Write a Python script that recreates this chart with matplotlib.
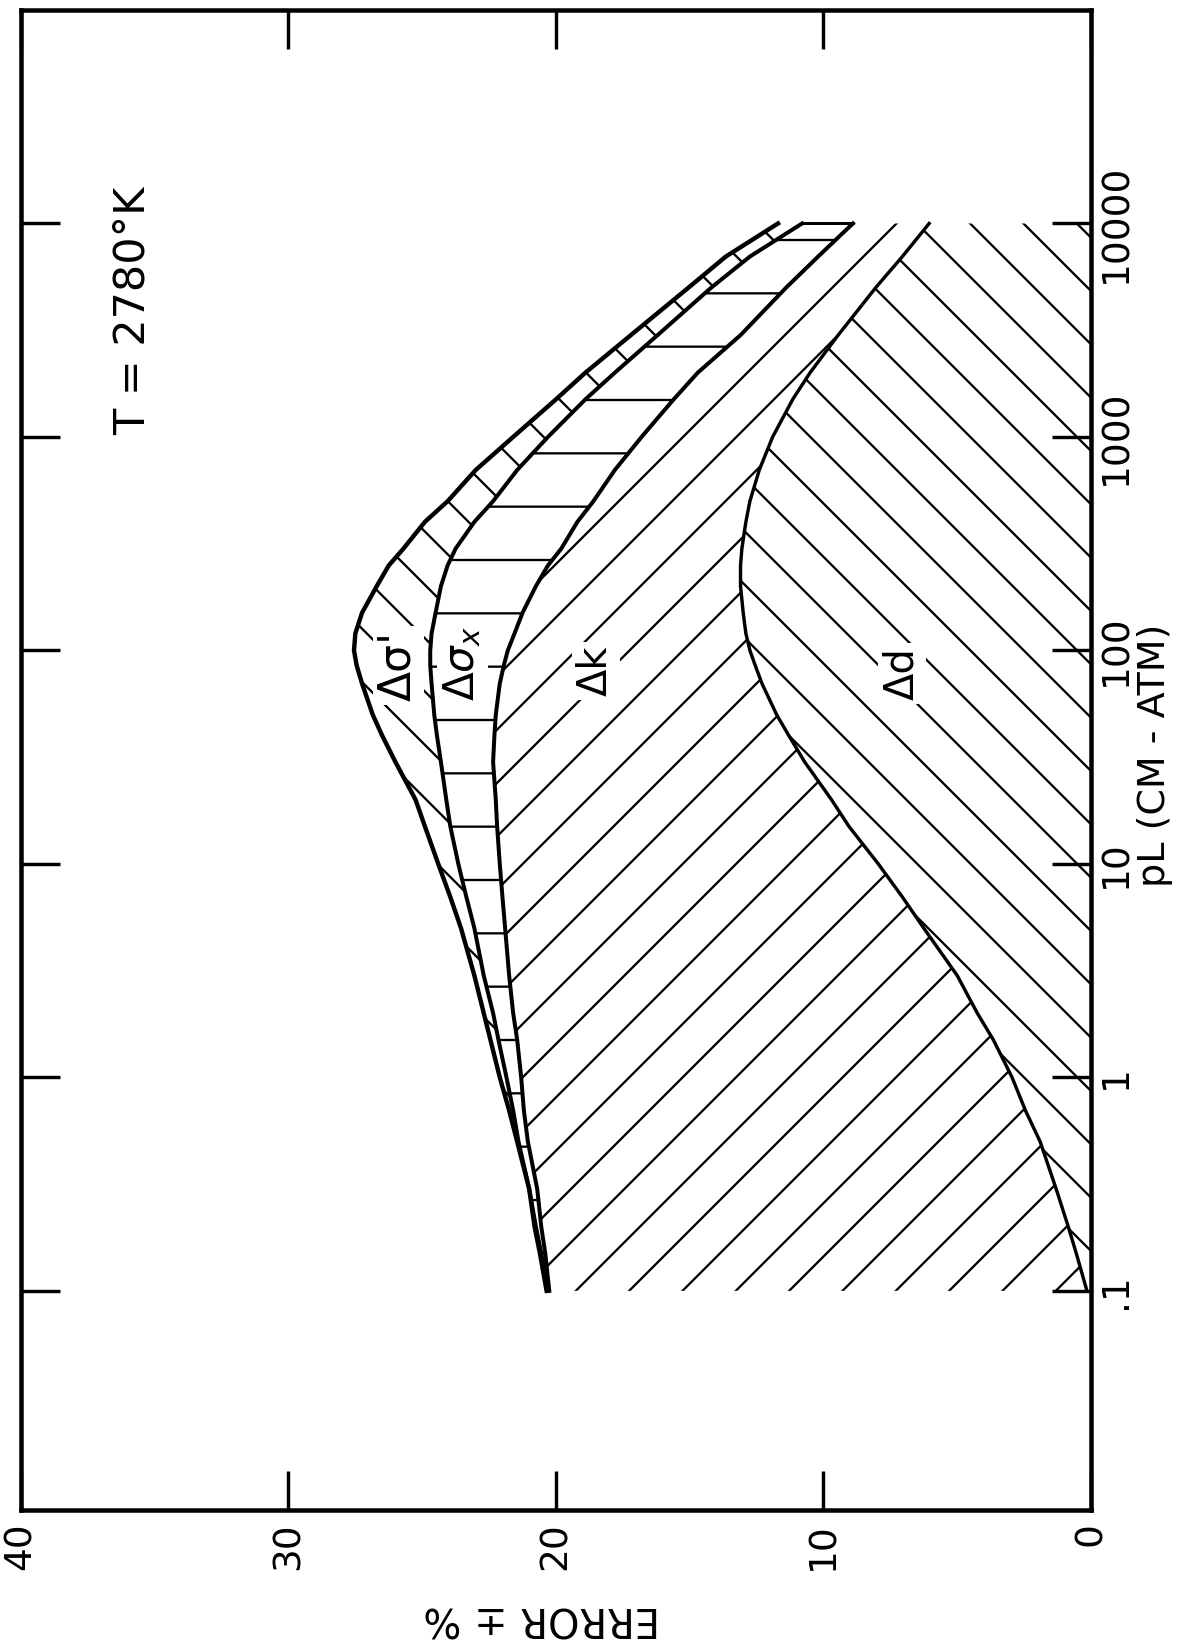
import matplotlib.pyplot as plt
from matplotlib.ticker import NullLocator

# pL grid (cm-atm) and error bands (+/- %)
pl = [0.1, 0.15, 0.2, 0.3, 0.5, 0.7, 1, 1.5, 2, 3, 5, 7, 10, 15, 20, 30, 40, 50, 70,
      85, 100, 120, 150, 200, 250, 300, 400, 500, 700, 1000, 1500, 2000, 3000, 5000,
      7000, 10000]
err_d = [0.15, 0.55, 0.85, 1.3, 1.9, 2.45, 2.95, 3.65, 4.25, 5.0, 6.25, 7.05, 7.95,
         9.05, 9.7, 10.7, 11.3, 11.75, 12.3, 12.55, 12.75, 12.9, 13.0, 13.1, 13.1, 13.05,
         12.9, 12.75, 12.4, 11.9, 11.15, 10.5, 9.45, 8.05, 7.05, 6.05]
err_k = [20.25, 20.4, 20.55, 20.7, 21.05, 21.2, 21.3, 21.45, 21.6, 21.75, 21.9, 22.0,
         22.1, 22.2, 22.25, 22.35, 22.3, 22.25, 22.1, 21.95, 21.8, 21.55, 21.25, 20.75,
         20.3, 19.8, 19.2, 18.6, 17.8, 16.8, 15.6, 14.7, 13.1, 11.4, 10.2, 8.9]
err_sx = [20.3, 20.55, 20.75, 21.0, 21.4, 21.6, 21.85, 22.15, 22.35, 22.7, 23.05, 23.35,
          23.65, 23.95, 24.1, 24.3, 24.45, 24.55, 24.65, 24.7, 24.7, 24.65, 24.5, 24.3,
          24.05, 23.75, 23.05, 22.35, 21.45, 20.3, 18.9, 17.8, 16.2, 14.2, 12.75, 10.8]
err_s1 = [20.35, 20.6, 20.8, 21.0, 21.45, 21.75, 22.1, 22.45, 22.7, 23.05, 23.55, 23.95,
          24.4, 24.9, 25.25, 26.0, 26.5, 26.85, 27.25, 27.45, 27.55, 27.5, 27.25, 26.7,
          26.25, 25.7, 24.9, 24.05, 23.0, 21.6, 20.0, 18.9, 17.2, 15.05, 13.65, 11.7]

pl_ticks = [0.1, 1, 10, 100, 1000, 10000]
pl_labels = ['.1', '1', '10', '100', '1000', '10000']
err_ticks = [40, 30, 20, 10, 0]
err_labels = ['40', '30', '20', '10', '0']

# high dpi so the hatch cell (one inch) is wide and the hatch lines sparse
DPI = 320
W, H = 1177, 1641


def px(v):
    """pixels -> points at the output dpi"""
    return v * 72.0 / DPI


plt.rcParams['font.family'] = 'DejaVu Sans'
plt.rcParams['mathtext.fontset'] = 'dejavusans'
plt.rcParams['hatch.linewidth'] = px(2.3)

fig = plt.figure(figsize=(W / DPI, H / DPI), dpi=DPI)
ax = fig.add_axes([0.0178, 0.0798, 0.9091, 0.9141])

# hatched error bands, drawn sideways: error across, pL up
ax.fill_betweenx(pl, 0, err_d, facecolor='none', edgecolor='k', linewidth=0, hatch='\\\\')
ax.fill_betweenx(pl, err_d, err_k, facecolor='none', edgecolor='k', linewidth=0, hatch='//')
ax.fill_betweenx(pl, err_k, err_sx, facecolor='none', edgecolor='k', linewidth=0, hatch='-')
ax.fill_betweenx(pl, err_sx, err_s1, facecolor='none', edgecolor='k', linewidth=0, hatch='\\\\')

# band labels, knocked out of the hatching
box = dict(facecolor='white', edgecolor='none', pad=px(4))
ax.text(25.9, 85, "Δσ'", rotation=90, fontsize=px(44), ha='center', va='center', bbox=box)
ax.text(23.5, 87, r'$\Delta\sigma_x$', rotation=90, fontsize=px(42), ha='center',
        va='center', bbox=box)
ax.text(18.5, 80, 'Δk', rotation=90, fontsize=px(40), ha='center', va='center', bbox=box)
ax.text(7.07, 78, 'Δd', rotation=90, fontsize=px(40), ha='center', va='center', bbox=box)

ax.plot(err_d, pl, color='k', lw=px(3.4))
ax.plot(err_k, pl, color='k', lw=px(4))
ax.plot(err_sx, pl, color='k', lw=px(4))
ax.plot(err_s1, pl, color='k', lw=px(4.4))
ax.plot([err_sx[-1], err_k[-1]], [pl[-1], pl[-1]], color='k', lw=px(3))

ax.set_yscale('log')
ax.set_ylim(0.0094, 1e5)
ax.set_xlim(40, 0)

ax.set_xticks(err_ticks)
ax.set_xticklabels(err_labels)
ax.set_yticks(pl_ticks)
ax.yaxis.set_minor_locator(NullLocator())
ax.tick_params(axis='both', direction='in', length=px(39), width=px(3.4), labelsize=px(37.5))
ax.tick_params(axis='x', top=True, bottom=True, pad=px(12.5))
ax.tick_params(axis='y', left=True, right=True, labelleft=False, labelright=True, pad=px(7))
ax.set_yticklabels(pl_labels)
plt.setp(ax.get_xticklabels(), rotation=90, ha='center', va='top')
plt.setp(ax.get_yticklabels(), rotation=90, ha='left', va='center')
for s in ax.spines.values():
    s.set_linewidth(px(4.5))

fig.text(133 / W, 1 - 311 / H, 'T = 2780°K', rotation=90, fontsize=px(43),
         ha='center', va='center')
fig.text(1155 / W, 1 - 755 / H, 'pL (CM - ATM)', rotation=90, fontsize=px(38),
         ha='center', va='center')
fig.text(542 / W, 1 - 1617 / H, 'ERROR ± %', rotation=180, fontsize=px(40),
         ha='center', va='center')

fig.savefig('out.png', dpi=DPI)
